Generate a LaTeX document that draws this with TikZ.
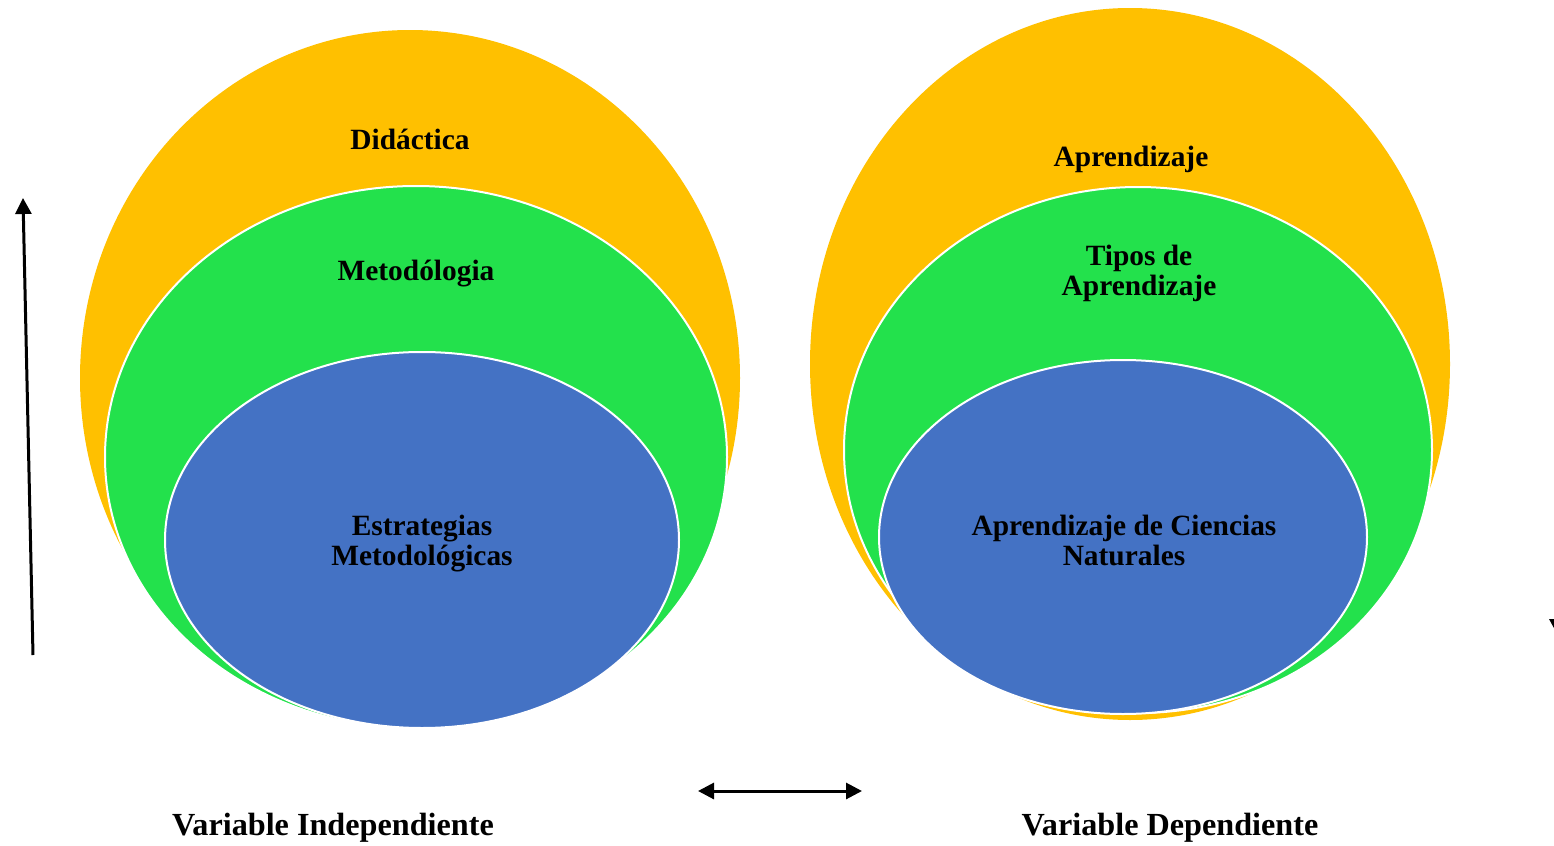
\documentclass[tikz,border=0pt]{standalone}
\usepackage{fontspec}
\setmainfont{Liberation Serif}
\usetikzlibrary{shapes.geometric,arrows.meta}
\definecolor{orng}{HTML}{FFC000}
\definecolor{grn}{HTML}{23E14C}
\definecolor{blu}{HTML}{4472C4}
\tikzset{
  blob/.style={ellipse, inner sep=0pt, draw=white, line width=1pt},
  lbl/.style={font=\bfseries\fontsize{14.7pt}{15pt}\selectfont, align=center, text=black},
  foot/.style={font=\bfseries\fontsize{16.1pt}{17pt}\selectfont, text=black},
  arr/.style={line width=1.5pt, -{Triangle[width=8pt,length=8pt]}},
}
\begin{document}
\begin{tikzpicture}[x=0.5pt,y=-0.5pt]
\useasboundingbox (0,0) rectangle (1554,846);
% left group
\node[blob, fill=orng, draw=none, minimum width=330pt, minimum height=348pt] (lo) at (410,378) {};
\node[blob, fill=grn, minimum width=311pt, minimum height=271pt] (lg) at (416,457) {};
\node[blob, fill=blu, minimum width=257pt, minimum height=188pt] (lb) at (422,540) {};
\node[lbl] (t1) at (410,139) {Didáctica};
\node[lbl] (t2) at (416,274) {Metodólogia};
\node[lbl] (t3) at (422,544) {Estrategias\\Metodológicas};
% right group
\node[blob, fill=orng, draw=none, minimum width=320pt, minimum height=356pt] (ro) at (1130,364) {};
\node[blob, fill=grn, minimum width=294pt, minimum height=263pt] (rg) at (1138,450) {};
\node[blob, fill=blu, minimum width=244pt, minimum height=177pt] (rb) at (1123,537) {};
\node[lbl] (t4) at (1131,159) {Aprendizaje};
\node[lbl] (t5) at (1139,273) {Tipos de\\Aprendizaje};
\node[lbl] (t6) at (1124,540) {Aprendizaje de Ciencias\\Naturales};
% footer labels
\node[foot] (vi) at (333,828) {Variable Independiente};
\node[foot] (vd) at (1170,828) {Variable Dependiente};
% arrows
\coordinate (a1) at (33,655);
\coordinate (a2) at (23,198);
\draw[arr] (a1) -- (a2);
\coordinate (b1) at (698,791);
\coordinate (b2) at (862,791);
\draw[line width=1.5pt, {Triangle[width=8pt,length=8pt]}-{Triangle[width=8pt,length=8pt]}] (b1) -- (b2);
\begin{scope}
\clip (0,0) rectangle (1554,846);
\fill[black] (1549,619) -- (1561,619) -- (1555,630) -- cycle;
\end{scope}
\end{tikzpicture}
\end{document}
